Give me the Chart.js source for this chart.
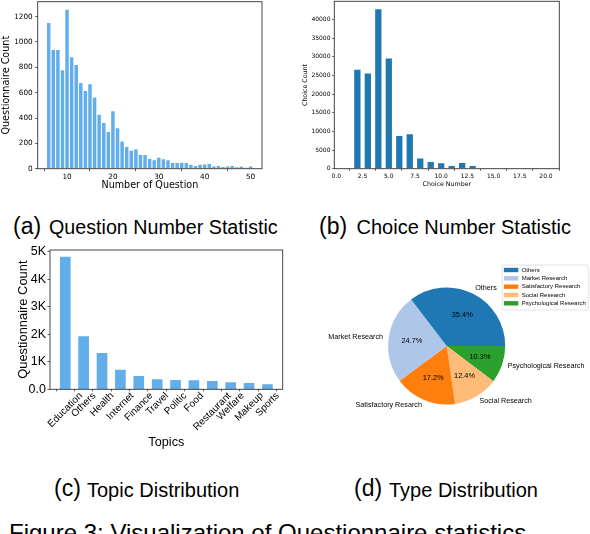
<!DOCTYPE html>
<html><head><meta charset="utf-8">
<script src="https://cdn.jsdelivr.net/npm/chart.js@4.4.0/dist/chart.umd.min.js"></script>
<style>
html,body{margin:0;padding:0;background:#fff;width:590px;height:534px;overflow:hidden;position:relative;}
canvas{position:absolute;}
.cap{position:absolute;font-family:"Liberation Sans",Arial,sans-serif;color:#000;line-height:1.117;white-space:nowrap;}
</style></head><body>
<canvas id="ca" width="290" height="205" style="left:0;top:0"></canvas>
<canvas id="cb" width="300" height="205" style="left:290px;top:0"></canvas>
<canvas id="cc" width="295" height="230" style="left:0;top:240px"></canvas>
<canvas id="cd" width="295" height="230" style="left:295px;top:240px"></canvas>

<div class="cap" style="left:13px;top:213.7px;font-size:23px">(a)</div>
<div class="cap" style="left:49px;top:216.4px;font-size:19.7px">Question Number Statistic</div>
<div class="cap" style="left:319px;top:213.7px;font-size:23px">(b)</div>
<div class="cap" style="left:356.5px;top:216.4px;font-size:20px">Choice Number Statistic</div>
<div class="cap" style="left:54px;top:475.9px;font-size:23px">(c)</div>
<div class="cap" style="left:87px;top:478.6px;font-size:20px">Topic Distribution</div>
<div class="cap" style="left:354px;top:475.9px;font-size:23px">(d)</div>
<div class="cap" style="left:389px;top:478.6px;font-size:20px">Type Distribution</div>
<div class="cap" style="left:9px;top:520px;font-size:24px">Figure 3: Visualization of Questionnaire statistics.</div>

<script>
// ---------- data ----------
const questionNumbers = [6,7,8,9,10,11,12,13,14,15,16,17,18,19,20,21,22,23,24,25,26,27,28,29,30,31,32,33,34,35,36,37,38,39,40,41,42,43,44,45,46,47,48,49,50];
const questionCounts  = [1150,937,937,777,1255,880,819,677,614,667,562,425,360,289,454,320,215,171,142,152,108,108,76,66,87,74,66,45,45,47,45,32,21,32,34,37,18,21,13,18,21,11,18,8,18];
const xTicksA = [10,20,30,40,50];
const yTicksA = [0,200,400,600,800,1000,1200];

const choiceNumbers = [1,2,3,4,5,6,7,8,9,10,11,12,13,14,15,16,17,18,19,20];
const choiceCounts  = [180,26500,25500,42700,29500,8750,9200,2700,1800,1450,700,1500,700,200,180,60,50,40,40,30];
const xTicksB = [0,2.5,5,7.5,10,12.5,15,17.5,20];
const yTicksB = [0,5000,10000,15000,20000,25000,30000,35000,40000];

const topics = ['Education','Others','Health','Internet','Finance','Travel','Politic','Food','Restaurant','Welfare','Makeup','Sports'];
const topicCounts = [4820,1925,1320,714,484,363,339,327,302,254,230,181];
const yTicksC = [0,1000,2000,3000,4000,5000];
const yTickLabelsC = ['0.0','1K','2K','3K','4K','5K'];

const typeLabels   = ['Others','Market Research','Satisfactory Resarch','Social Research','Psychological Research'];
const legendLabels = ['Others','Market Research','Satisfactory Research','Social Research','Psychological Research'];
const typeShares   = [35.4,24.7,17.2,12.4,10.3];
const typeColors   = ['#1f77b4','#aec7e8','#ff7f0e','#ffbb78','#2ca02c'];

// ---------- helpers ----------
const LS = '"Liberation Sans", Arial';
Chart.defaults.font.family = 'DejaVu Sans';

const frame = {
  id:'frame',
  afterDatasetsDraw(chart){
    const a = chart.chartArea, c = chart.ctx;
    c.save(); c.strokeStyle='#333'; c.lineWidth=0.9;
    c.strokeRect(a.left, a.top, a.right-a.left, a.bottom-a.top);
    c.restore();
  }
};

function axis(o){
  return {
    type:'linear', min:o.min, max:o.max, offset:false,
    afterBuildTicks: s => { s.ticks = o.ticks.map(v => ({value:v})); },
    afterFit: s => {
      if (o.w != null) s.width = o.w;
      if (o.h != null) s.height = o.h;
      s.paddingTop = s.paddingBottom = s.paddingLeft = s.paddingRight = 0;
    },
    grid:{display:true, drawOnChartArea:false, drawTicks:true, tickLength:o.tl, color:'#333', lineWidth:0.8},
    border:{display:false},
    ticks:{display:o.showTicks !== false, autoSkip:false, maxRotation:0, minRotation:0, padding:o.pad,
           color:'#000', font:{family:o.family, size:o.tickSize}, callback:o.cb},
    title:{display:true, text:o.title, color:'#000', font:{family:o.family, size:o.titleSize}, padding:o.titlePad}
  };
}

function xy(xs, ys){ return xs.map((x,i) => ({x:x, y:ys[i]})); }

const common = {responsive:false, animation:false, events:[],
  plugins:{legend:{display:false}, tooltip:{enabled:false}}};

// ---------- (a) ----------
new Chart(document.getElementById('ca'), {
  type:'bar',
  data:{datasets:[{data:xy(questionNumbers, questionCounts), backgroundColor:'#62aeea',
        borderWidth:0, barPercentage:0.76, categoryPercentage:1}]},
  options:Object.assign({}, common, {
    layout:{padding:{top:1.7, right:28, left:0, bottom:0}},
    scales:{
      x: axis({min:3.6, max:52.5, ticks:xTicksA, h:36.3, tl:2.5, pad:2, family:'DejaVu Sans', tickSize:7.3,
               titleSize:9.6, title:'Number of Question', titlePad:{top:0,bottom:13.5}, cb:v => String(v)}),
      y: axis({min:0, max:1318, ticks:yTicksA, w:37.7, tl:2.5, pad:2.5, family:'DejaVu Sans', tickSize:7.3,
               titleSize:9.6, title:'Questionnaire Count', titlePad:{top:0.9,bottom:0}, cb:v => String(v)})
    }
  }),
  plugins:[frame]
});

// ---------- (b) ----------
new Chart(document.getElementById('cb'), {
  type:'bar',
  data:{datasets:[{data:xy(choiceNumbers, choiceCounts), backgroundColor:'#1f77b4',
        borderWidth:0, barPercentage:0.6, categoryPercentage:1}]},
  options:Object.assign({}, common, {
    layout:{padding:{top:1.3, right:30.7, left:0, bottom:0}},
    scales:{
      x: axis({min:-0.2, max:21.27, ticks:xTicksB, h:36.3, tl:2, pad:2, family:'DejaVu Sans', tickSize:6,
               titleSize:6.3, title:'Choice Number', titlePad:{top:0,bottom:16.9}, cb:v => v.toFixed(1)}),
      y: axis({min:0, max:44835, ticks:yTicksB, w:44.3, tl:2, pad:1.8, family:'DejaVu Sans', tickSize:6,
               titleSize:6.3, title:'Choice Count', titlePad:{top:11.2,bottom:0}, cb:v => String(v)})
    }
  }),
  plugins:[frame]
});

// ---------- (c) ----------
const rotLabels = {
  id:'rotLabels',
  afterDraw(chart){
    const s = chart.scales.x, ctx = chart.ctx, fs = 10;
    ctx.save();
    ctx.font = fs + 'px ' + LS; ctx.fillStyle = '#000';
    ctx.textAlign = 'center'; ctx.textBaseline = 'middle';
    topics.forEach((t,i) => {
      const w = ctx.measureText(t).width;
      const ink = 0.7071 * (w + 0.72*fs);
      const cx = s.getPixelForValue(i), cy = chart.chartArea.bottom + 2.4 + ink/2;
      ctx.save(); ctx.translate(cx, cy); ctx.rotate(-Math.PI/4); ctx.fillText(t, 0, 0); ctx.restore();
    });
    ctx.restore();
  }
};
new Chart(document.getElementById('cc'), {
  type:'bar',
  data:{datasets:[{data:xy(topics.map((t,i) => i), topicCounts), backgroundColor:'#62aeea',
        borderWidth:0, barPercentage:0.58, categoryPercentage:1}]},
  options:Object.assign({}, common, {
    layout:{padding:{top:10, right:12.3, left:0, bottom:0}},
    scales:{
      x: axis({min:-0.83, max:11.83, ticks:topics.map((t,i) => i), h:80.7, tl:2, pad:2, family:LS, tickSize:10,
               showTicks:false, titleSize:12.7, title:'Topics', titlePad:{top:0,bottom:20.1}, cb:v => ''}),
      y: axis({min:0, max:5061, ticks:yTicksC, w:50, tl:2.5, pad:1.5, family:'Liberation Sans', tickSize:12.5,
               titleSize:12.9, title:'Questionnaire Count', titlePad:{top:15.6,bottom:0},
               cb:(v,i) => yTickLabelsC[i]})
    }
  }),
  plugins:[frame, rotLabels]
});

// ---------- (d) ----------
const pieLabels = typeLabels.slice().reverse();
const pieShares = typeShares.slice().reverse();
const pieColors = typeColors.slice().reverse();
const pieText = {
  id:'pieText',
  afterDraw(chart){
    const ctx = chart.ctx, meta = chart.getDatasetMeta(0);
    const total = pieShares.reduce((a,b) => a+b, 0);
    ctx.save();
    ctx.fillStyle = '#000'; ctx.textBaseline = 'middle';
    meta.data.forEach((arc,i) => {
      const p = arc.getProps(['x','y','startAngle','endAngle','outerRadius'], true);
      const mid = (p.startAngle + p.endAngle)/2, c = Math.cos(mid), s = Math.sin(mid);
      ctx.font = '7.4px ' + LS;
      ctx.textAlign = 'center';
      ctx.fillText((pieShares[i]/total*100).toFixed(1) + '%', p.x + c*0.6*p.outerRadius, p.y + s*0.6*p.outerRadius);
      const lx = p.x + c*1.1*p.outerRadius, ly = p.y + s*1.1*p.outerRadius;
      ctx.font = '7.2px ' + LS;
      ctx.textAlign = lx > p.x ? 'left' : 'right';
      ctx.fillText(pieLabels[i], lx, ly);
    });
    // legend box
    const bx = 207.3, by = 25, bw = 86, bh = 45, r = 1.5;
    ctx.beginPath();
    ctx.moveTo(bx+r, by); ctx.lineTo(bx+bw-r, by); ctx.quadraticCurveTo(bx+bw, by, bx+bw, by+r);
    ctx.lineTo(bx+bw, by+bh-r); ctx.quadraticCurveTo(bx+bw, by+bh, bx+bw-r, by+bh);
    ctx.lineTo(bx+r, by+bh); ctx.quadraticCurveTo(bx, by+bh, bx, by+bh-r);
    ctx.lineTo(bx, by+r); ctx.quadraticCurveTo(bx, by, bx+r, by); ctx.closePath();
    ctx.fillStyle = 'rgba(255,255,255,0.8)'; ctx.fill();
    ctx.strokeStyle = '#d0d0d0'; ctx.lineWidth = 0.6; ctx.stroke();
    ctx.font = '6px ' + LS; ctx.textAlign = 'left';
    legendLabels.forEach((t,i) => {
      const y = 30 + i*8.33;
      ctx.fillStyle = typeColors[i]; ctx.fillRect(208.9, y-2.2, 14.4, 4.4);
      ctx.fillStyle = '#000'; ctx.fillText(t, 226.7, y);
    });
    ctx.restore();
  }
};
new Chart(document.getElementById('cd'), {
  type:'pie',
  data:{labels:pieLabels, datasets:[{data:pieShares, backgroundColor:pieColors, borderWidth:0, hoverOffset:0}]},
  options:Object.assign({}, common, {
    rotation:90,
    layout:{padding:{left:93.2, top:47.5, right:84.8, bottom:65.5}}
  }),
  plugins:[pieText]
});
</script>
</body></html>
